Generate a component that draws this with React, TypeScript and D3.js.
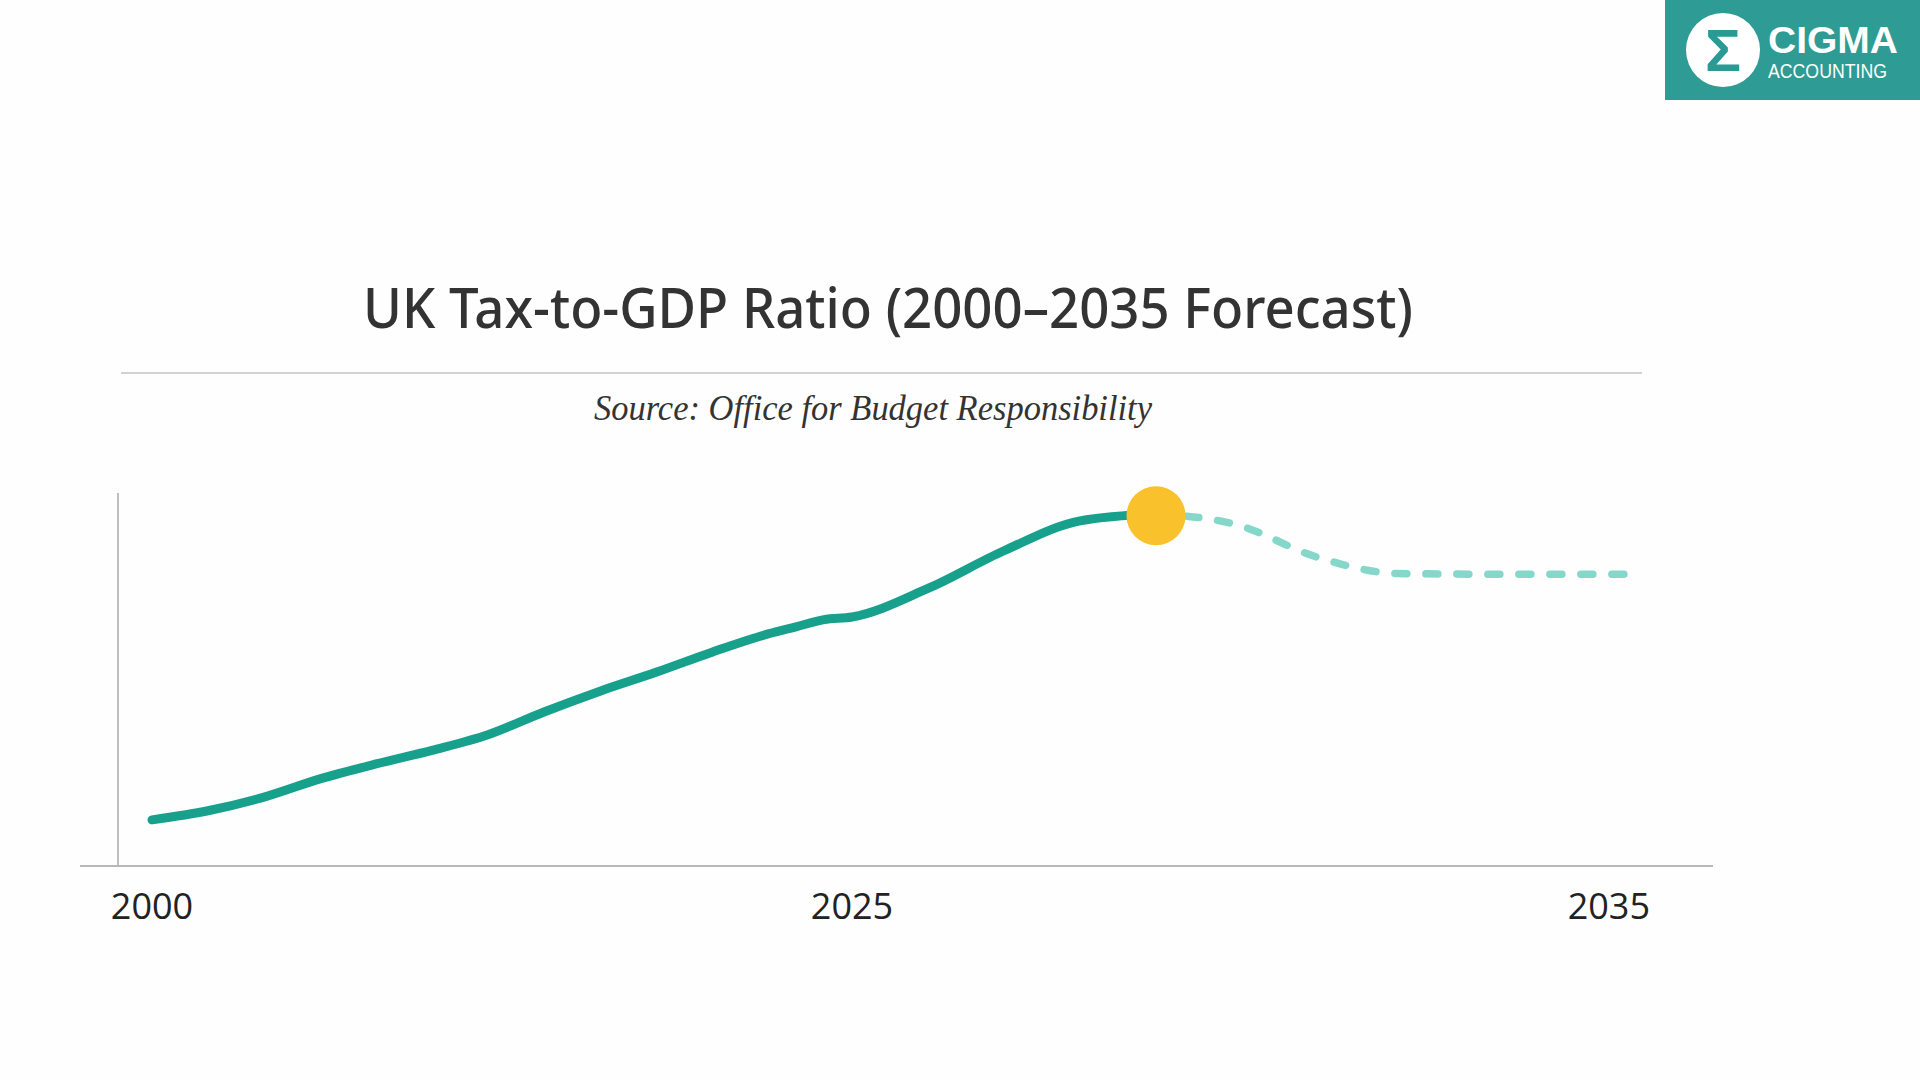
import React from "react";
import * as d3 from "d3";

// ---- Data ----
const actualYears = [2000, 2002, 2004, 2006, 2008, 2010, 2012, 2014, 2016, 2018, 2020, 2022, 2023, 2024, 2025, 2026, 2027, 2028, 2029];
const actualValues = [32.71, 32.85, 33.06, 33.34, 33.57, 33.78, 34.02, 34.37, 34.69, 34.98, 35.29, 35.57, 35.68, 35.79, 35.83, 36.27, 36.85, 37.31, 37.42];
const forecastYears = [2029, 2030, 2031, 2032, 2033, 2034, 2035];
const forecastValues = [37.42, 37.25, 36.75, 36.5, 36.49, 36.49, 36.49];
const peakYear = 2029;
const peakValue = 37.42;
const tickYears = [2000, 2025, 2035];

const TITLE = "UK Tax-to-GDP Ratio (2000\u20132035 Forecast)";
const SUBTITLE = "Source: Office for Budget Responsibility";

// ---- Layout ----
const W = 1920;
const H = 1080;
const AXIS_Y = 866;
const YAXIS_X = 118;
const YAXIS_TOP = 493;

const x = d3.scaleLinear().domain([2000, 2025, 2029, 2035]).range([152, 852, 1156, 1640]);
const y = d3.scaleLinear().domain([32, 38]).range([AXIS_Y, 476]);

type P = [number, number];
const actual: P[] = actualYears.map((yr, i) => [yr, actualValues[i]]);
const forecast: P[] = forecastYears.map((yr, i) => [yr, forecastValues[i]]);

const lineGen = d3
  .line<P>()
  .x((d) => x(d[0]))
  .y((d) => y(d[1]))
  .curve(d3.curveMonotoneX);

export default function App() {
  return (
    <svg
      width={W}
      height={H}
      viewBox={`0 0 ${W} ${H}`}
      style={{ position: "fixed", left: 0, top: 0, background: "#ffffff" }}
    >
      <rect x={0} y={0} width={W} height={H} fill="#fefefe" />

      {/* Logo */}
      <g>
        <rect x={1665} y={0} width={255} height={100} fill="#2e9b95" />
        <circle cx={1723} cy={50} r={37} fill="#ffffff" />
        <text
          x={1723}
          y={71}
          textAnchor="middle"
          fontFamily="'Liberation Sans', Arial, sans-serif"
          fontWeight={700}
          fontSize={60}
          fill="#2a9a94"
        >
          Σ
        </text>
        <text
          x={1768}
          y={53}
          fontFamily="'Liberation Sans', Arial, sans-serif"
          fontWeight={700}
          fontSize={36}
          fill="#ffffff"
          textLength={130}
          lengthAdjust="spacingAndGlyphs"
        >
          CIGMA
        </text>
        <text
          x={1768}
          y={78}
          fontFamily="'Liberation Sans', Arial, sans-serif"
          fontSize={20}
          fill="#ffffff"
          textLength={119}
          lengthAdjust="spacingAndGlyphs"
        >
          ACCOUNTING
        </text>
      </g>

      {/* Title */}
      <text
        x={888}
        y={328}
        textAnchor="middle"
        fontFamily="'Noto Sans', 'Open Sans', sans-serif"
        fontWeight={500}
        fontSize={56}
        fill="#333333"
        textLength={1050}
        lengthAdjust="spacingAndGlyphs"
      >
        {TITLE}
      </text>
      <line x1={121} x2={1642} y1={373} y2={373} stroke="#d2d2d2" strokeWidth={2} />
      <text
        x={873}
        y={420}
        textAnchor="middle"
        fontFamily="'Liberation Serif', 'DejaVu Serif', serif"
        fontStyle="italic"
        fontSize={35}
        fill="#333333"
        textLength={558}
        lengthAdjust="spacingAndGlyphs"
      >
        {SUBTITLE}
      </text>

      {/* Axes */}
      <line x1={YAXIS_X} x2={YAXIS_X} y1={YAXIS_TOP} y2={AXIS_Y} stroke="#a8a8a8" strokeWidth={1.5} />
      <line x1={80} x2={1713} y1={AXIS_Y} y2={AXIS_Y} stroke="#b8b8b8" strokeWidth={2} />
      {tickYears.map((t, i) => {
        const last = i === tickYears.length - 1;
        return (
          <text
            key={t}
            x={x(t) + (last ? 10 : 0)}
            y={919}
            textAnchor={last ? "end" : "middle"}
            fontFamily="'Open Sans', 'Noto Sans', sans-serif"
            fontSize={36}
            fill="#222222"
          >
            {t}
          </text>
        );
      })}

      {/* Forecast (dashed) */}
      <path
        d={lineGen(forecast) || ""}
        fill="none"
        stroke="#84d7c9"
        strokeWidth={7.5}
        strokeLinecap="round"
        strokeDasharray="12 19"
      />
      {/* Actual (solid) */}
      <path
        d={lineGen(actual) || ""}
        fill="none"
        stroke="#17a08c"
        strokeWidth={9}
        strokeLinecap="round"
        strokeLinejoin="round"
      />
      {/* Peak marker */}
      <circle cx={x(peakYear)} cy={y(peakValue) + 2} r={29.5} fill="#f9c22c" />
    </svg>
  );
}
